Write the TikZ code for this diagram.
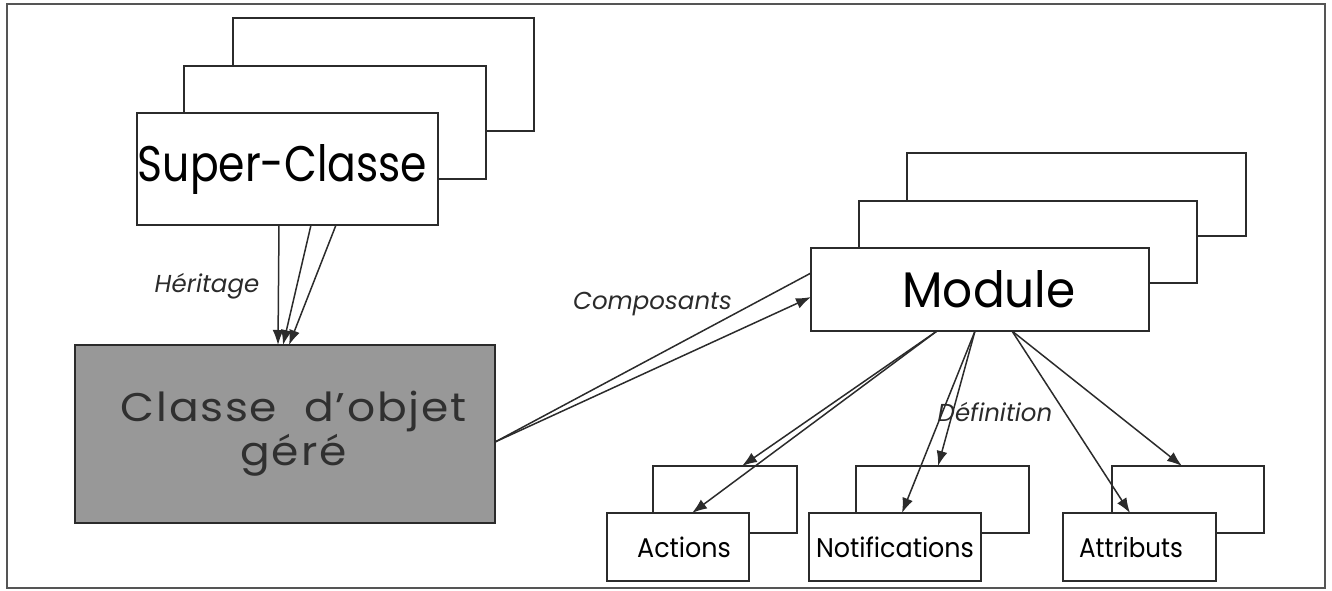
\documentclass[tikz,border=0pt]{standalone}
\usepackage{fontspec}
\setmainfont{Poppins}
\usetikzlibrary{arrows.meta}
\definecolor{ink}{HTML}{2B2B2B}
\definecolor{boxgray}{HTML}{989898}
\definecolor{txtgray}{HTML}{303030}
\newcommand{\sx}[2]{\scalebox{#1}[1]{#2}}
\begin{document}
\begin{tikzpicture}[x=1pt,y=-1pt,
  box/.style={draw=ink, fill=white, line width=2.1pt, inner sep=0pt, outer sep=0pt, text=black},
  conn/.style={draw=ink, line width=1.5pt},
  arr/.style={conn, -{Latex[length=15pt,width=11pt]}},
  lbl/.style={inner sep=0pt, font=\fontsize{24.5}{28}\selectfont\itshape, text=ink, anchor=base}
]
\useasboundingbox (0,0) rectangle (1332,591);
\draw[line width=1.5pt, draw=ink!80] (7,4) rectangle (1325,588);

% Super-Classe stack
\node[box, minimum width=301pt, minimum height=113pt] (scb) at (383.5,74.5) {};
\node[box, minimum width=302pt, minimum height=113pt] (scm) at (335,122.5) {};
\node[box, minimum width=301pt, minimum height=112pt, font=\fontsize{50}{58}\selectfont] (sc) at (287.5,169) {\raisebox{-5pt}{\sx{0.85}{Super-Classe}}\hspace*{10pt}};

% Classe d'objet gere
\node[box, fill=boxgray, minimum width=420pt, minimum height=178pt, align=center, text=txtgray, font=\fontsize{40}{44}\selectfont\addfontfeature{LetterSpace=4}] (cls) at (285,434) {\hspace*{17pt}\raisebox{-4pt}{\sx{1.1}{Classe\ \ d’objet}}\\\hspace*{17pt}\raisebox{-4pt}{\sx{1.1}{géré}}};

% Module stack
\node[box, minimum width=339pt, minimum height=83pt] (modb) at (1076.5,194.5) {};
\node[box, minimum width=338pt, minimum height=82pt] (modm) at (1028,242) {};
\node[box, minimum width=338pt, minimum height=83pt, font=\fontsize{50}{58}\selectfont] (mod) at (980,289.5) {\hspace*{18pt}\sx{0.94}{Module}};

% bottom boxes
\node[box, minimum width=144pt, minimum height=67pt] (actb) at (725,499.5) {};
\node[box, minimum width=142pt, minimum height=68pt, font=\fontsize{27}{30}\selectfont] (act) at (678,547) {\hspace*{12pt}\sx{0.94}{Actions}};
\node[box, minimum width=173pt, minimum height=67pt] (notb) at (942.5,499.5) {};
\node[box, minimum width=172pt, minimum height=68pt, font=\fontsize{27}{30}\selectfont] (notf) at (895,547) {\sx{0.94}{Notifications}};
\node[box, minimum width=152pt, minimum height=67pt] (attb) at (1188,499.5) {};
\node[box, minimum width=153pt, minimum height=68pt, font=\fontsize{27}{30}\selectfont] (att) at (1139.5,547) {\sx{0.91}{Attributs}\hspace*{17pt}};

% labels
\node[lbl] (her) at (207,292) {Héritage};
\node[lbl] (comp) at (652.5,309) {Composants};
\node[lbl] (def) at (995,421) {Définition};

% heritage arrows
\draw[arr] ([xshift=-8.5pt]sc.south) -- ([xshift=-7pt]cls.north);
\draw[arr] ([xshift=23.5pt]sc.south) -- ([xshift=-2pt]cls.north);
\draw[arr] ([xshift=48.5pt]sc.south) -- ([xshift=4pt]cls.north);

% composants
\draw[conn] ([yshift=-8pt]cls.east) -- ([yshift=16.5pt]mod.west);
\draw[arr] ([yshift=-8pt]cls.east) -- ([yshift=-7.5pt]mod.west);

% definition arrows
\draw[arr] ([xshift=-43pt]mod.south) -- ([xshift=17pt]actb.north);
\draw[arr] ([xshift=-43pt]mod.south) -- ([xshift=14pt]act.north);
\draw[arr] ([xshift=-5pt]mod.south) -- ([xshift=-4.5pt]notb.north);
\draw[arr] ([xshift=-5pt]mod.south) -- ([xshift=7pt]notf.north);
\draw[arr] ([xshift=32pt]mod.south) -- ([xshift=-9.5pt]att.north);
\draw[arr] ([xshift=32pt]mod.south) -- ([xshift=-6pt]attb.north);
\end{tikzpicture}
\end{document}
